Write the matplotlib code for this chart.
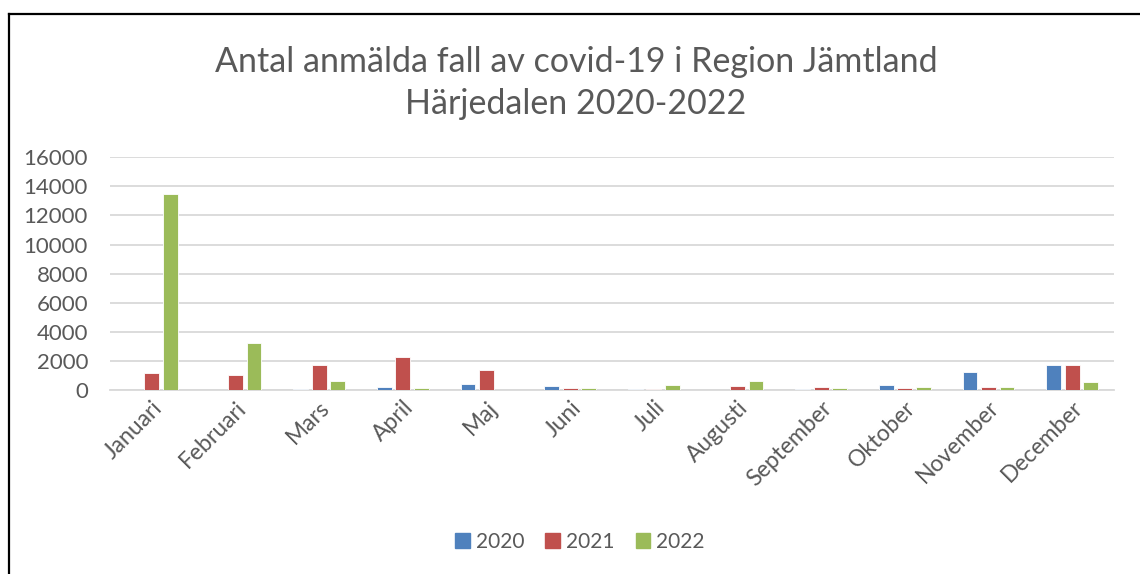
import matplotlib
matplotlib.use("Agg")
import matplotlib.pyplot as plt
from matplotlib.lines import Line2D
import numpy as np

months = ["Januari", "Februari", "Mars", "April", "Maj", "Juni", "Juli",
          "Augusti", "September", "Oktober", "November", "December"]
years = ["2020", "2021", "2022"]
v2020 = [0, 0, 50, 200, 390, 275, 50, 10, 90, 320, 1215, 1700]
v2021 = [1200, 1050, 1700, 2290, 1350, 110, 50, 250, 185, 110, 205, 1745]
v2022 = [13450, 3250, 600, 140, 10, 110, 340, 600, 110, 185, 180, 530]
yticks = [0, 2000, 4000, 6000, 8000, 10000, 12000, 14000, 16000]
colors = ["#4F81BD", "#C0504D", "#9BBB59"]
title = "Antal anmälda fall av covid-19 i Region Jämtland\nHärjedalen 2020-2022"

plt.rcParams['font.family'] = ['Lato', 'DejaVu Sans']
txt = "#595959"

W, H = 1140, 574
fig = plt.figure(figsize=(W / 100, H / 100), dpi=100)
ax = fig.add_axes([110 / W, 1 - 390 / H, (1114 - 110) / W, (390 - 157.3) / H])

x = np.arange(len(months))
bw = 0.176
step = 0.221
for i, (vals, c, lab) in enumerate(zip([v2020, v2021, v2022], colors, years)):
    ax.bar(x + (i - 1) * step, vals, width=bw, color=c, edgecolor="white",
           linewidth=0.6, label=lab, zorder=3)

ax.set_xlim(-0.5, len(months) - 0.5)
ax.set_ylim(0, 16000)
ax.set_yticks(yticks)
ax.set_yticklabels([str(t) for t in yticks])
ax.set_xticks(x)
ax.set_xticklabels(months, rotation=45, ha="right", va="top",
                   rotation_mode="anchor")
ax.tick_params(axis="both", length=0, colors=txt)
ax.tick_params(axis="y", labelsize=16, pad=15.8)
ax.tick_params(axis="x", labelsize=16.5, pad=5)
ax.grid(axis="y", color="#D9D9D9", linewidth=1.3, zorder=0)
for s in ["top", "right", "left"]:
    ax.spines[s].set_visible(False)
ax.spines["bottom"].set_color("#D9D9D9")
ax.spines["bottom"].set_linewidth(1.3)

fig.text(576 / W, 1 - 83 / H, title, ha="center", va="center",
         fontsize=24.5, color=txt, linespacing=1.42)

handles = [plt.Rectangle((0, 0), 1, 1, color=c) for c in colors]
fig.legend(handles, years, loc="center", bbox_to_anchor=(580 / W, 1 - 542 / H),
           ncol=3, frameon=False, fontsize=15, labelcolor=txt,
           handlelength=0.7, handleheight=0.7, handletextpad=0.3,
           columnspacing=1.0)

fig.add_artist(Line2D([8.5 / W, 8.5 / W], [0, 1 - 13.5 / H], color="black",
                      linewidth=1.6, transform=fig.transFigure))
fig.add_artist(Line2D([8.5 / W, 1], [1 - 13.5 / H, 1 - 13.5 / H], color="black",
                      linewidth=1.6, transform=fig.transFigure))

fig.savefig("out.png", dpi=100, facecolor="white")
